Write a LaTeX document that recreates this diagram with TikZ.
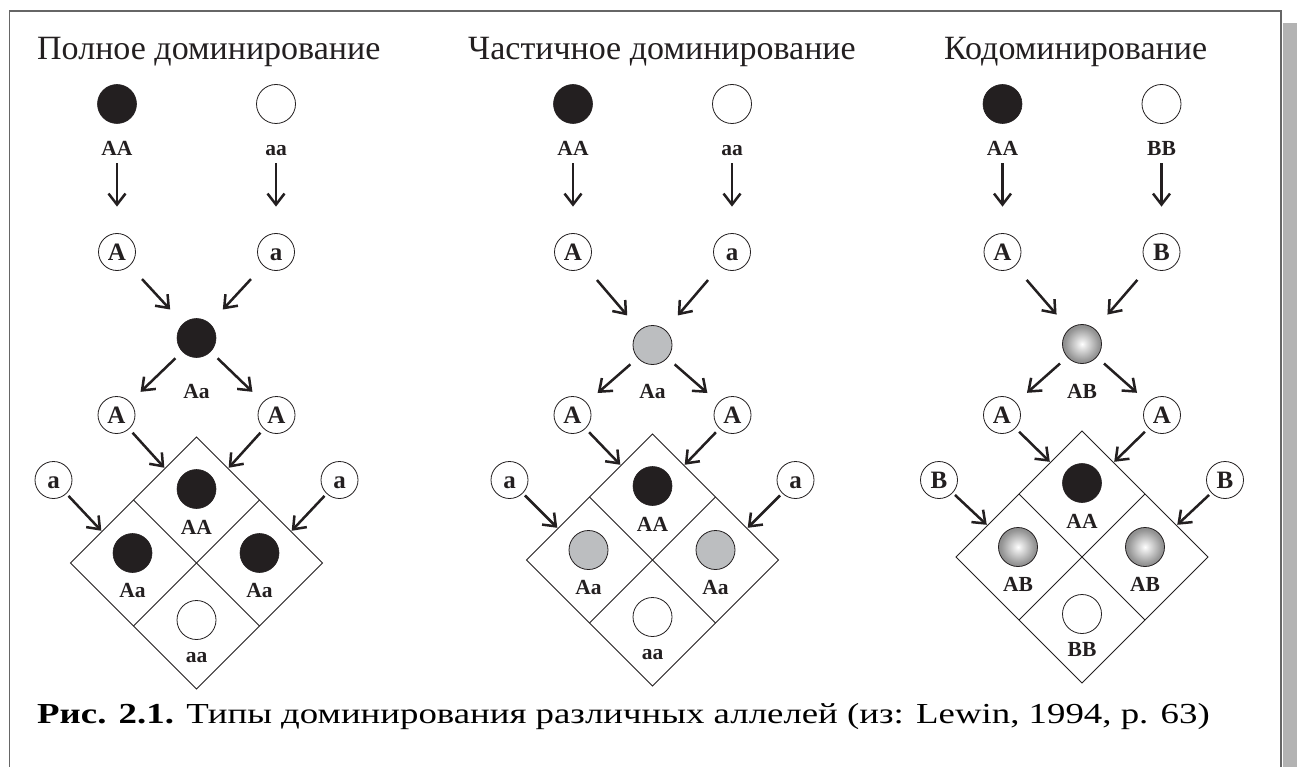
\documentclass[tikz,border=0pt]{standalone}
\usepackage{fontspec}
\setmainfont{Liberation Serif}
\usetikzlibrary{arrows.meta,calc}
\definecolor{ink}{HTML}{231F20}
\definecolor{midgray}{HTML}{BCBEC0}
\definecolor{framecol}{HTML}{666666}
\definecolor{shadowcol}{HTML}{B3B3B3}
\pgfdeclareradialshading{ballshade}{\pgfpoint{0bp}{0bp}}{color(0bp)=(white); color(5bp)=(white!90!black); color(22bp)=(white!58!black); color(50bp)=(white!38!black)}
\tikzset{
  blk/.style={circle, minimum size=39pt, inner sep=0pt, fill=ink, draw=ink, line width=0.6pt},
  wht/.style={circle, minimum size=39pt, inner sep=0pt, fill=white, draw=ink, line width=0.8pt},
  gry/.style={circle, minimum size=39pt, inner sep=0pt, fill=midgray, draw=ink, line width=0.8pt},
  shd/.style={circle, minimum size=39pt, inner sep=0pt, shading=ballshade, draw=ink, line width=0.8pt},
  gam/.style={circle, minimum size=37pt, inner sep=0pt, fill=white, draw=ink, line width=0.8pt, text height=16.5pt, text depth=0pt, font=\bfseries\fontsize{25}{25}\selectfont, text=ink},
  lab/.style={anchor=base, inner sep=0pt, font=\bfseries\fontsize{21.5}{21.5}\selectfont, text=ink},
  ttl/.style={anchor=base west, inner sep=0pt, font=\fontsize{34}{34}\selectfont, text=ink},
  arr/.style={line width=2.5pt, draw=ink, -{Straight Barb[length=11pt,width=17pt]}},
  grid/.style={line width=0.8pt, draw=ink},
}
\newcommand\crosspanel[9]{%
\begin{scope}[name prefix=#9-, shift={(#1,0)}]
  \node[blk] (P1) at (-79.5,104) {};
  \node[wht] (P2) at (79.5,104) {};
  \node[lab] (L1) at (-79.5,156) {AA};
  \node[lab] (L2) at (79.5,156) {#4};
  \node[gam] (G1) at (-79.5,252) {A};
  \node[gam] (G2) at (79.5,252) {#5};
  \node[#6] (F) at (0,#2) {};
  \node[lab] (FL) at (0,398) {#7};
  \node[gam] (H1) at (-80,415) {A};
  \node[gam] (H2) at (80,415) {A};
  \node[gam] (O1) at (-143,480) {#5};
  \node[gam] (O2) at (143,480) {#5};
  \coordinate (T) at (0,#3);
  \coordinate (Lv) at (-126,#3+126);
  \coordinate (R) at (126,#3+126);
  \coordinate (B) at (0,#3+252);
  \draw[grid] (T) -- (R) -- (B) -- (Lv) -- cycle;
  \draw[grid] ($(T)!0.5!(Lv)$) -- ($(R)!0.5!(B)$);
  \draw[grid] ($(T)!0.5!(R)$) -- ($(Lv)!0.5!(B)$);
  \coordinate (e1) at ($(T)!0.25!(Lv)$);
  \coordinate (e2) at ($(T)!0.25!(R)$);
  \coordinate (e3) at ($(T)!0.75!(Lv)$);
  \coordinate (e4) at ($(T)!0.75!(R)$);
  \node[blk] (C1) at (0,#3+52) {};
  \node[lab] (CL1) at (0,#3+97) {AA};
  \node[#6] (C2) at (-64,#3+116) {};
  \node[lab] (CL2) at (-64,#3+160) {#7};
  \node[#6] (C3) at (63,#3+116) {};
  \node[lab] (CL3) at (63,#3+160) {#7};
  \node[wht] (C4) at (0,#3+183) {};
  \node[lab] (CL4) at (0,#3+225) {#8};
  \draw[arr, shorten <=7pt, shorten >=26.5pt] (L1) -- (G1);
  \draw[arr, shorten <=7pt, shorten >=26.5pt] (L2) -- (G2);
  \draw[arr, shorten <=18pt, shorten >=19pt] (G1) -- (F);
  \draw[arr, shorten <=18pt, shorten >=19pt] (G2) -- (F);
  \draw[arr, shorten <=9.5pt, shorten >=14.5pt] (F) -- (H1);
  \draw[arr, shorten <=9.5pt, shorten >=14.5pt] (F) -- (H2);
  \draw[arr, shorten <=5pt, shorten >=1pt] (H1) -- (e1);
  \draw[arr, shorten <=5pt, shorten >=1pt] (H2) -- (e2);
  \draw[arr, shorten <=3pt, shorten >=1pt] (O1) -- (e3);
  \draw[arr, shorten <=3pt, shorten >=1pt] (O2) -- (e4);
\end{scope}}
\begin{document}
\begin{tikzpicture}[x=1pt,y=-1pt]
\useasboundingbox (0,0) rectangle (1297,767);
\fill[white] (0,0) rectangle (1297,767);
\fill[shadowcol] (1282.5,23) rectangle (1297,767);
\draw[framecol, line width=1.4pt] (9.7,780) -- (9.7,11) -- (1281,11) -- (1281,780);
\node[ttl] (t1) at (37,59.5) {Полное доминирование};
\node[ttl] (t2) at (468,59.5) {Частичное доминирование};
\node[ttl] (t3) at (944,59.5) {Кодоминирование};
\crosspanel{196.5}{338}{437}{aa}{a}{blk}{Aa}{aa}{L}
\crosspanel{652.5}{345}{434}{aa}{a}{gry}{Aa}{aa}{M}
\crosspanel{1082}{344}{431}{BB}{B}{shd}{AB}{BB}{R}
\node[anchor=base west, inner sep=0pt, font=\fontsize{29}{29}\selectfont, text=black] (cap) at (37,723) {\scalebox{1.27}[1]{\textbf{Рис. 2.1.} Типы доминирования различных аллелей (из: Lewin, 1994, p. 63)}};
\end{tikzpicture}
\end{document}
